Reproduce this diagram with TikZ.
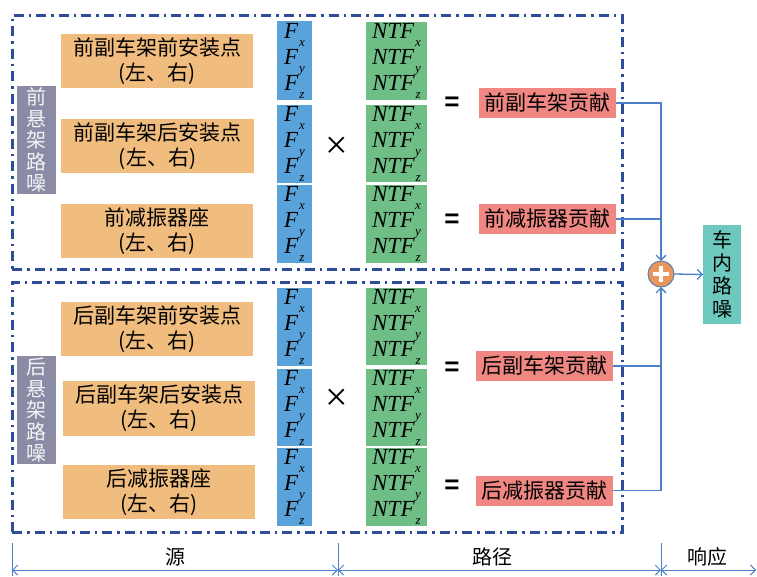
\documentclass[tikz,border=0pt]{standalone}
\usepackage{fontspec}
\newfontfamily\cjk{Noto Sans CJK SC}
\newfontfamily\tms{Liberation Serif}
\newfontfamily\arl{Liberation Sans}
\usetikzlibrary{arrows.meta,positioning}
\definecolor{ora}{HTML}{F1BD7F}
\definecolor{blu}{HTML}{5AA2DA}
\definecolor{gre}{HTML}{6EBE85}
\definecolor{red}{HTML}{F08783}
\definecolor{gry}{HTML}{8B8BA5}
\definecolor{tea}{HTML}{6DC8BE}
\definecolor{dd}{HTML}{2F4C9A}
\definecolor{ln}{HTML}{4C7FCB}
\definecolor{cir}{HTML}{E8965C}
\tikzset{
  x=1pt,y=-1pt,
  base/.style={inner sep=0pt,outer sep=0pt,align=center,text=black},
  obox/.style={base,fill=ora,font=\cjk\fontsize{21}{25}\selectfont},
  fbox/.style={base,fill=blu,minimum width=35pt,font=\tms\itshape\fontsize{23}{26}\selectfont},
  nbox/.style={base,fill=gre,minimum width=61pt,font=\tms\itshape\fontsize{23}{26}\selectfont},
  rbox/.style={base,fill=red,font=\cjk\fontsize{21}{22}\selectfont,minimum width=137pt,minimum height=30pt},
  gbox/.style={base,fill=gry,text=white!90!gry,font=\cjk\fontsize{20}{21.5}\selectfont,minimum width=39pt,minimum height=108pt},
  tbox/.style={base,fill=tea,font=\cjk\fontsize{20}{23}\selectfont,minimum width=38pt,minimum height=99pt},
  ddbox/.style={draw=dd,line width=3pt,dash pattern=on 10pt off 5pt on 2.5pt off 5pt},
  conn/.style={draw=ln,line width=1.3pt},
  tip/.style={-{Straight Barb[length=5pt,width=10pt,line width=1.3pt]}},
  timesym/.style={base,font=\tms\fontsize{40}{40}\selectfont},
  eqsym/.style={base,font=\arl\bfseries\fontsize{26}{26}\selectfont},
  lbl/.style={base,font=\cjk\fontsize{20}{22}\selectfont},
}
\newcommand{\sbx}[1]{\kern1pt\raisebox{-0.35em}{\fontsize{13}{13}\selectfont #1}}
\newcommand{\Fs}{F\sbx{x}\\F\sbx{y}\\F\sbx{z}}
\newcommand{\Ns}{NTF\sbx{x}\\NTF\sbx{y}\\NTF\sbx{z}}
\begin{document}
\begin{tikzpicture}
\useasboundingbox (0,0) rectangle (757,576);
% dash-dot group boxes
\node[ddbox,base,minimum width=610pt,minimum height=254pt] (topgrp) at (317,142) {};
\node[ddbox,base,minimum width=610pt,minimum height=250pt] (botgrp) at (317,407) {};
% gray labels
\node[gbox] (fg) at (36.5,140) {前\\悬\\架\\路\\噪};
\node[gbox] (rg) at (36.5,410) {后\\悬\\架\\路\\噪};
% orange source boxes
\node[obox,minimum width=192pt,minimum height=54pt] (o1) at (157,61) {前副车架前安装点\\(左、右)};
\node[obox,minimum width=193pt,minimum height=54pt] (o2) at (157.5,146) {前副车架后安装点\\(左、右)};
\node[obox,minimum width=192pt,minimum height=54pt] (o3) at (157,231) {前减振器座\\(左、右)};
\node[obox,minimum width=192pt,minimum height=54pt] (o4) at (157,329) {后副车架前安装点\\(左、右)};
\node[obox,minimum width=192pt,minimum height=55pt] (o5) at (159,408.5) {后副车架后安装点\\(左、右)};
\node[obox,minimum width=192pt,minimum height=54pt] (o6) at (159,492) {后减振器座\\(左、右)};
% blue force boxes
\node[fbox,minimum height=79pt] (f1) at (294.5,60.5) {\Fs};
\node[fbox,minimum height=78pt] (f2) at (294.5,144) {\Fs};
\node[fbox,minimum height=78pt] (f3) at (294.5,224) {\Fs};
\node[fbox,minimum height=78pt] (f4) at (294.5,327) {\Fs};
\node[fbox,minimum height=77pt] (f5) at (294.5,407.5) {\Fs};
\node[fbox,minimum height=78pt] (f6) at (294.5,487) {\Fs};
% green NTF boxes
\node[nbox,minimum height=78pt] (n1) at (396.5,61) {\Ns};
\node[nbox,minimum height=77pt] (n2) at (396.5,143.5) {\Ns};
\node[nbox,minimum height=78pt] (n3) at (396.5,224) {\Ns};
\node[nbox,minimum height=77pt] (n4) at (396.5,326.5) {\Ns};
\node[nbox,minimum height=77pt] (n5) at (396.5,407.5) {\Ns};
\node[nbox,minimum height=78pt] (n6) at (396.5,487) {\Ns};
% operators
\node[timesym] (x1) at (337,148) {×};
\node[timesym] (x2) at (337,400) {×};
\node[eqsym] (e1) at (452,104) {=};
\node[eqsym] (e2) at (452,221) {=};
\node[eqsym] (e3) at (452,369) {=};
\node[eqsym] (e4) at (452,487) {=};
% red contribution boxes
\node[rbox] (r1) at (547.5,103) {前副车架贡献};
\node[rbox] (r2) at (547.5,219) {前减振器贡献};
\node[rbox] (r3) at (544.5,366) {后副车架贡献};
\node[rbox] (r4) at (544.5,490.5) {后减振器贡献};
% sum circle and output
\node[base,circle,fill=cir,draw=ln!70!gray,line width=1pt,minimum size=26pt] (sum) at (661,274) {};
\draw[white,line width=3.5pt] ([xshift=-8pt]sum.center) -- ([xshift=8pt]sum.center);
\draw[white,line width=3.5pt] ([yshift=-8pt]sum.center) -- ([yshift=8pt]sum.center);
\node[tbox] (out) at (722,274.5) {车\\内\\路\\噪};
% connectors
\draw[conn,tip] (r1.east) -| (sum.north);
\draw[conn] (r2.east) -- (r2.east -| sum.north);
\draw[conn,tip] (r4.east) -| (sum.south);
\draw[conn] (r3.east) -- (r3.east -| sum.south);
\draw[conn,tip] (sum.east) -- (out.west);
% bottom axis
\coordinate (t0a) at (12,543); \coordinate (t0b) at (12,576);
\coordinate (t1a) at (338,543); \coordinate (t1b) at (338,576);
\coordinate (t2a) at (661,543); \coordinate (t2b) at (661,576);
\coordinate (a0) at (12,570); \coordinate (a1) at (338,570);
\coordinate (a2) at (661,570); \coordinate (a3) at (756,570);
\draw[conn,line width=1pt] (t0a) -- (t0b);
\draw[conn,line width=1pt] (t1a) -- (t1b);
\draw[conn,line width=1pt] (t2a) -- (t2b);
\draw[conn,line width=1pt,{Straight Barb[length=5pt,width=10pt]}-{Straight Barb[length=5pt,width=10pt]}] (a0) -- (a1);
\draw[conn,line width=1pt,{Straight Barb[length=5pt,width=10pt]}-{Straight Barb[length=5pt,width=10pt]}] (a1) -- (a2);
\draw[conn,line width=1pt,{Straight Barb[length=5pt,width=10pt]}-{Straight Barb[length=5pt,width=10pt]}] (a2) -- (a3);
\node[lbl] (l1) at (175,557) {源};
\node[lbl] (l2) at (492,557) {路径};
\node[lbl] (l3) at (707,557) {响应};
\end{tikzpicture}
\end{document}
